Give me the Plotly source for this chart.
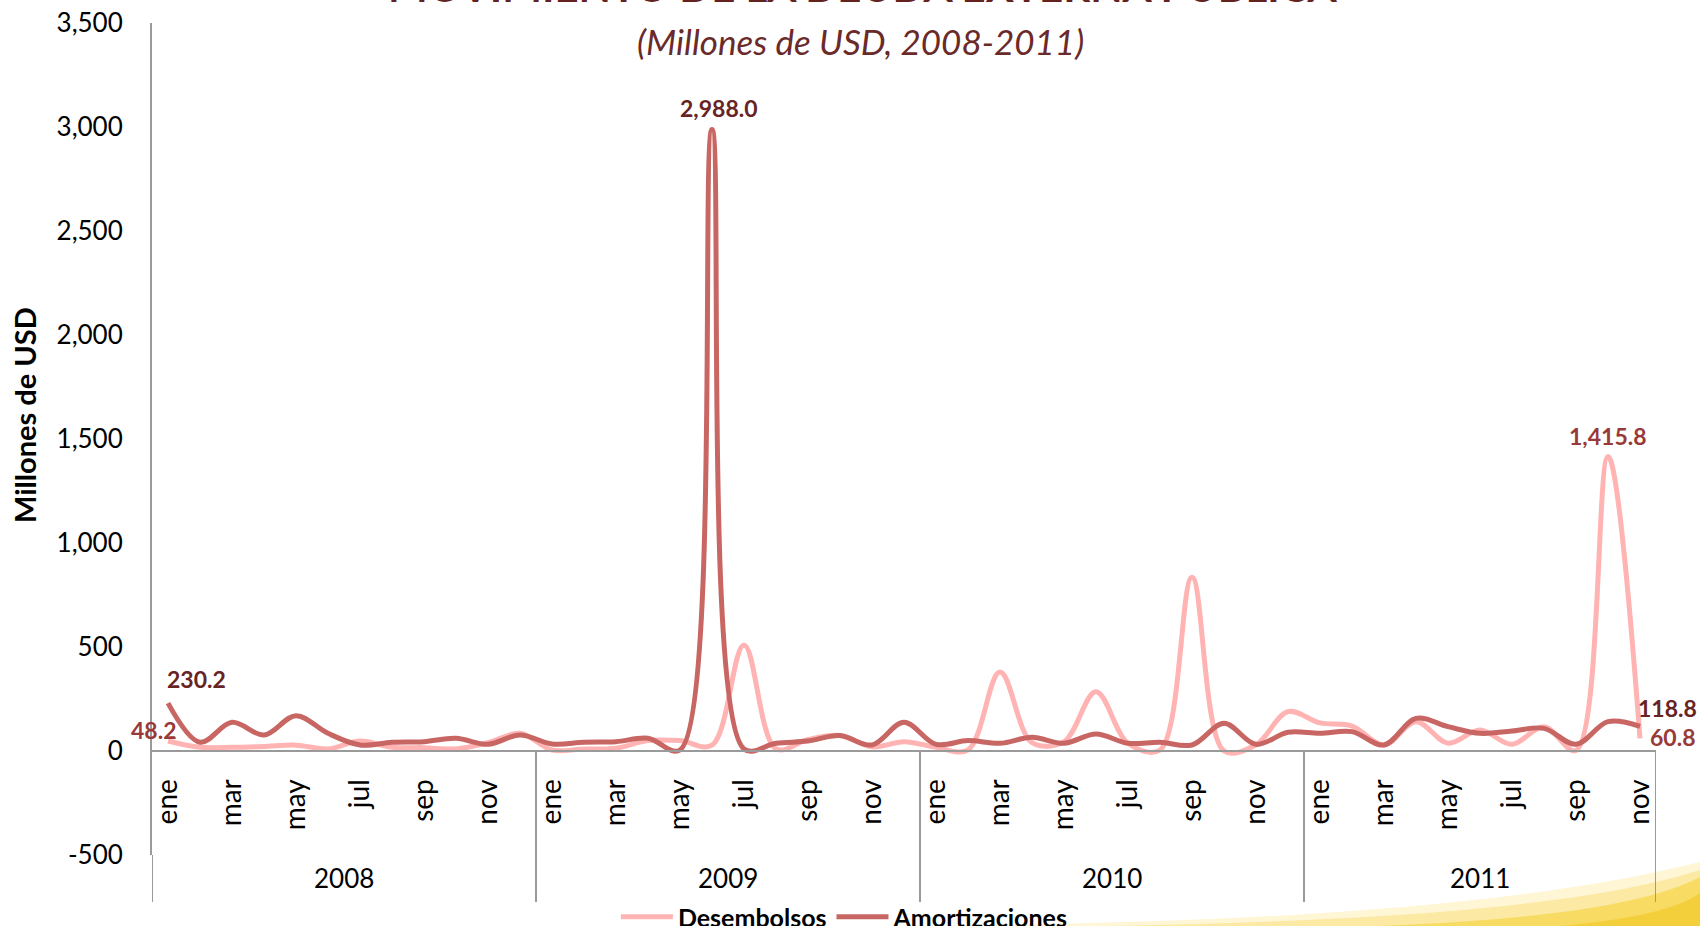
import plotly.graph_objects as go

# ---------------- data ----------------
MESES = ['ene', 'feb', 'mar', 'abr', 'may', 'jun', 'jul', 'ago', 'sep', 'oct', 'nov', 'dic']
ANIOS = ['2008', '2009', '2010', '2011']
MESES_POR_ANIO = [12, 12, 12, 11]

desembolsos = [48.2, 18, 18, 22, 28, 10, 48, 18, 16, 10, 40, 85,
               5, 10, 13, 50, 50, 28, 510, 10, 55, 75, 20, 45,
               18, 5, 380, 40, 45, 285, 37, 5, 835, 0, 30, 189,
               135, 120, 29, 141, 37, 101, 32, 117, 2, 1415.8, 60.8]

amortizaciones = [230.2, 42, 138, 77, 170, 85, 29, 42, 45, 61, 32, 77,
                  34, 42, 45, 61, 5, 2988.0, 10, 37, 48, 74, 29, 138,
                  32, 50, 37, 66, 37, 82, 37, 42, 29, 133, 32, 90,
                  85, 93, 29, 157, 117, 85, 96, 109, 32, 141, 118.8]

Y_TICKS = [-500, 0, 500, 1000, 1500, 2000, 2500, 3000, 3500]

TITULO = 'MOVIMIENTO DE LA DEUDA EXTERNA PUBLICA'
SUBTITULO = '(Millones de USD, 2008-2011)'
TITULO_Y = 'Millones de USD'

# ---------------- layout constants ----------------
W, H = 1700, 926
L, R, T, B = 152, 44, 23, 71
FONT = 'Lato'
C_DES = '#FFB3B3'
C_AMO = '#C86663'
C_LAB_DES = '#973A38'
C_LAB_AMO = '#672423'
C_AXIS = '#9A9A9A'

def px_x(p):
    return (p - L) / (W - L - R)

def px_y(p):
    return (H - B - p) / (H - T - B)

# month/year structure
labels_mes = []
for n in MESES_POR_ANIO:
    labels_mes += MESES[:n]
x = list(range(len(labels_mes)))
tick_idx = [i for i in x if labels_mes[i] in ('ene', 'mar', 'may', 'jul', 'sep', 'nov')]

bounds = [-0.5]
for n in MESES_POR_ANIO:
    bounds.append(bounds[-1] + n)
centers = [(bounds[k] + bounds[k + 1]) / 2 for k in range(len(ANIOS))]

ymin, ymax = Y_TICKS[0], Y_TICKS[-1]
zero_paper = (0 - ymin) / (ymax - ymin)

fig = go.Figure()
fig.add_trace(go.Scatter(x=x, y=desembolsos, name='Desembolsos', mode='lines',
                         line=dict(color=C_DES, width=5, shape='spline', smoothing=1.0)))
fig.add_trace(go.Scatter(x=x, y=amortizaciones, name='Amortizaciones', mode='lines',
                         line=dict(color=C_AMO, width=5, shape='spline', smoothing=1.0)))

shapes = []
# decorative yellow swoosh (background)
swoosh = [
    ((860, 926, 1200, 925, 1500, 912, 1700, 862, 1700, 926), '#FFF6D6'),
    ((1100, 926, 1420, 921, 1600, 902, 1700, 870, 1700, 926), '#FCE9A4'),
    ((1380, 926, 1580, 918, 1660, 898, 1700, 877, 1700, 926), '#F8DB62'),
    ((1560, 926, 1650, 918, 1685, 904, 1700, 893, 1700, 926), '#F3CF3C'),
]
for pts, col in swoosh:
    conv = [px_x(v) if k % 2 == 0 else px_y(v) for k, v in enumerate(pts)]
    shapes.append(dict(type='path', xref='paper', yref='paper', layer='below',
                       path='M {} {} C {} {} {} {} {} {} L {} {} Z'.format(*conv),
                       fillcolor=col, line=dict(width=0)))

# category dividers
for b in bounds:
    shapes.append(dict(type='line', xref='x', yref='paper', x0=b, x1=b,
                       y0=zero_paper if b != bounds[0] else 0, y1=px_y(902),
                       line=dict(color=C_AXIS, width=2)))

annotations = []
for c, a in zip(centers, ANIOS):
    annotations.append(dict(x=c, xref='x', y=px_y(878), yref='paper', text=a, showarrow=False,
                            font=dict(family=FONT, size=26, color='#000000'),
                            xanchor='center', yanchor='middle'))

# data labels (first, max, last)
def lab(i, series, color, xs, ys):
    return dict(x=i, y=series[i], xref='x', yref='y', text=f'{series[i]:,.1f}', showarrow=False,
                font=dict(family=FONT, size=23, color=color, weight='bold'),
                xanchor='center', yanchor='middle', xshift=xs, yshift=ys)

i_max_d = max(x, key=lambda i: desembolsos[i])
i_max_a = max(x, key=lambda i: amortizaciones[i])
annotations += [
    lab(0, amortizaciones, C_LAB_AMO, 28, 24),
    lab(0, desembolsos, C_LAB_DES, -15, 11),
    lab(i_max_a, amortizaciones, C_LAB_AMO, 7, 22),
    lab(i_max_d, desembolsos, C_LAB_DES, 0, 21),
    lab(x[-1], amortizaciones, C_LAB_AMO, 27, 18),
    lab(x[-1], desembolsos, C_LAB_DES, 32, 1),
]

# title (clipped at the top as in the source), subtitle, y-axis title
annotations.append(dict(x=px_x(862), xref='paper', y=px_y(13), yref='paper', text=TITULO,
                        showarrow=False, xanchor='center', yanchor='bottom',
                        font=dict(family=FONT, size=42, color='#63221F', weight='bold')))
annotations.append(dict(x=px_x(860), xref='paper', y=px_y(41), yref='paper', text=SUBTITULO,
                        showarrow=False, xanchor='center', yanchor='middle',
                        font=dict(family=FONT, size=35, color='#6B2A2A', style='italic')))
annotations.append(dict(x=px_x(24), xref='paper', y=px_y(415), yref='paper', text=TITULO_Y,
                        showarrow=False, xanchor='center', yanchor='middle', textangle=-90,
                        font=dict(family=FONT, size=29, color='#000000', weight='bold')))

fig.update_layout(
    width=W, height=H,
    margin=dict(l=L, r=R, t=T, b=B, autoexpand=False),
    paper_bgcolor='#FFFFFF', plot_bgcolor='rgba(0,0,0,0)',
    showlegend=True,
    legend=dict(orientation='h', xref='container', x=0.497, xanchor='center',
                yref='container', y=1 - 894 / H, yanchor='top',
                font=dict(family=FONT, size=25, color='#000000', weight='bold'),
                bgcolor='rgba(0,0,0,0)', itemwidth=52, traceorder='normal'),
    shapes=shapes,
    annotations=annotations,
    xaxis=dict(range=[bounds[0], bounds[-1]], anchor='free', position=zero_paper,
               tickmode='array', tickvals=tick_idx, ticktext=[labels_mes[i] for i in tick_idx],
               tickangle=-90, ticks='', showgrid=False, zeroline=False,
               showline=True, linecolor=C_AXIS, linewidth=2,
               tickfont=dict(family=FONT, size=28, color='#000000'),
               ticklabelstandoff=16),
    yaxis=dict(range=[ymin, ymax], tickmode='array', tickvals=Y_TICKS,
               ticktext=[f'{v:,}' for v in Y_TICKS], ticks='', showgrid=False, zeroline=False,
               showline=True, linecolor=C_AXIS, linewidth=2,
               tickfont=dict(family=FONT, size=26, color='#000000'),
               ticklabelstandoff=22),
    font=dict(family=FONT),
)

fig.write_html('out.html', config={'displayModeBar': False},
               post_script="document.body.style.margin='0';document.body.style.overflow='hidden';")
